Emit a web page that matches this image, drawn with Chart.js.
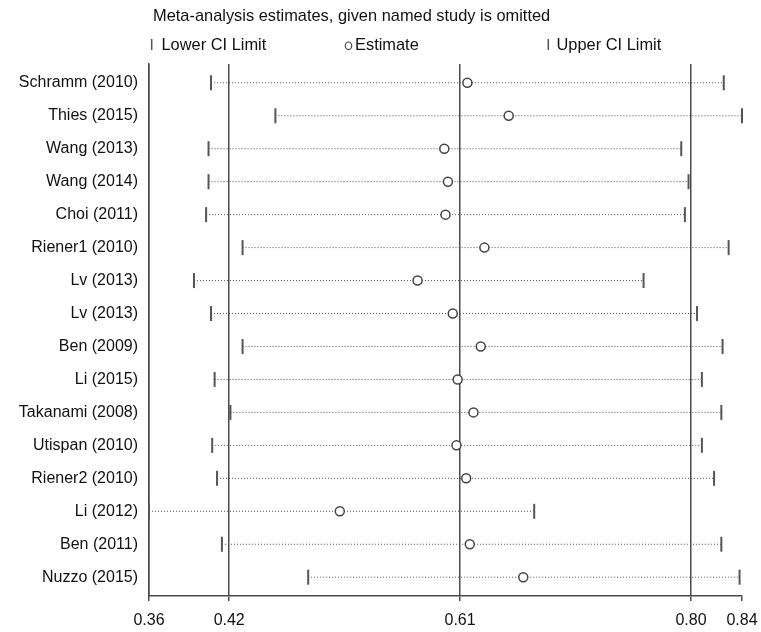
<!DOCTYPE html>
<html>
<head>
<meta charset="utf-8">
<script src="https://cdn.jsdelivr.net/npm/chart.js@4"></script>
<style>
  html, body { margin: 0; padding: 0; background: #fff; }
  #wrap { width: 761px; height: 632px; }
</style>
</head>
<body>
<div id="wrap"><canvas id="chart"></canvas></div>
<script>
const studies = [
  "Schramm (2010)", "Thies (2015)", "Wang (2013)", "Wang (2014)", "Choi (2011)",
  "Riener1 (2010)", "Lv (2013)", "Lv (2013)", "Ben (2009)", "Li (2015)",
  "Takanami (2008)", "Utispan (2010)", "Riener2 (2010)", "Li (2012)", "Ben (2011)", "Nuzzo (2015)"
];
const lowerCI = [0.405, 0.458, 0.403, 0.403, 0.401, 0.431, 0.391, 0.405, 0.431, 0.408,
  0.421, 0.406, 0.410, 0.354, 0.414, 0.485];
const estimates = [0.616, 0.650, 0.597, 0.600, 0.598, 0.630, 0.575, 0.604, 0.627, 0.608,
  0.621, 0.607, 0.615, 0.511, 0.618, 0.662];
const upperCI = [0.827, 0.842, 0.792, 0.798, 0.795, 0.831, 0.761, 0.805, 0.826, 0.809,
  0.825, 0.809, 0.819, 0.671, 0.825, 0.840];

// axis ticks (first one sits at the left end of the axis)
const tickValues = [0.354, 0.42, 0.61, 0.80, 0.842];
const tickLabels = ["0.36", "0.42", "0.61", "0.80", "0.84"];

const titleText = "Meta-analysis estimates, given named study is omitted";
const FONT = '"Liberation Sans", Arial, sans-serif';

// dotted range line for every study
const rangeSets = studies.map((s, i) => ({
  data: [{ x: lowerCI[i], y: i }, { x: upperCI[i], y: i }],
  showLine: true,
  borderColor: "#4f4f4f",
  borderWidth: 1,
  borderDash: [1, 2],
  pointRadius: 0,
  pointHoverRadius: 0,
  clip: false,
  order: 3,
}));

const capStyle = {
  pointStyle: "line",
  pointRotation: 90,
  pointRadius: 7.5,
  pointHoverRadius: 7.5,
  pointBorderWidth: 2,
  pointBorderColor: "#555",
  showLine: false,
  clip: false,
  order: 1,
};

const datasets = [
  ...rangeSets,
  { ...capStyle, data: lowerCI.map((v, i) => ({ x: v, y: i })) },
  { ...capStyle, data: upperCI.map((v, i) => ({ x: v, y: i })) },
  {
    data: estimates.map((v, i) => ({ x: v, y: i })),
    pointStyle: "circle",
    pointRadius: 4.5,
    pointHoverRadius: 4.5,
    pointBorderWidth: 1.5,
    pointBorderColor: "#444",
    pointBackgroundColor: "#fff",
    showLine: false,
    clip: false,
    order: 0,
  },
];

// title + legend drawn above the plot
const headerPlugin = {
  id: "header",
  afterDraw(chart) {
    const ctx = chart.ctx;
    ctx.save();
    ctx.fillStyle = "#111";
    ctx.font = "16.4px " + FONT;
    ctx.textBaseline = "alphabetic";
    ctx.fillText(titleText, 153, 21);
    ctx.fillText("Lower CI Limit", 161.5, 50);
    ctx.fillText("Estimate", 355, 50);
    ctx.fillText("Upper CI Limit", 556.5, 50);

    ctx.strokeStyle = "#555";
    ctx.lineWidth = 1.5;
    ctx.beginPath();
    ctx.moveTo(151.7, 39);
    ctx.lineTo(151.7, 50);
    ctx.moveTo(548.3, 39);
    ctx.lineTo(548.3, 50);
    ctx.stroke();

    ctx.lineWidth = 1.2;
    ctx.strokeStyle = "#444";
    ctx.beginPath();
    ctx.ellipse(348.5, 45.8, 3.2, 3.8, 0, 0, Math.PI * 2);
    ctx.stroke();
    ctx.restore();
  },
};

new Chart(document.getElementById("chart"), {
  type: "scatter",
  data: { datasets },
  plugins: [headerPlugin],
  options: {
    responsive: true,
    maintainAspectRatio: false,
    animation: false,
    events: [],
    layout: { padding: { top: 64, right: 19, left: 0, bottom: 0 } },
    plugins: {
      legend: { display: false },
      tooltip: { enabled: false },
    },
    scales: {
      x: {
        type: "linear",
        min: 0.354,
        max: 0.842,
        afterBuildTicks: (scale) => {
          scale.ticks = tickValues.map((v) => ({ value: v }));
        },
        afterFit: (scale) => {
          scale.height = 36;
          // labels may hang over the ends, the layout padding covers them
          scale.paddingLeft = 0;
          scale.paddingRight = 0;
        },
        ticks: {
          autoSkip: false,
          maxRotation: 0,
          padding: 10,
          color: "#111",
          font: { family: FONT, size: 16 },
          callback: (v, i) => tickLabels[i],
        },
        grid: {
          color: (c) => (c.index === tickValues.length - 1 ? "rgba(0,0,0,0)" : "#4a4a4a"),
          tickColor: "#4a4a4a",
          lineWidth: 1.5,
          tickLength: 5,
        },
        border: { display: true, color: "#4a4a4a", width: 1.5 },
      },
      y: {
        type: "linear",
        reverse: true,
        min: -0.57,
        max: 15.57,
        afterBuildTicks: (scale) => {
          scale.ticks = studies.map((s, i) => ({ value: i }));
        },
        afterFit: (scale) => {
          scale.width = 149;
          scale.paddingTop = 0;
          scale.paddingBottom = 0;
        },
        ticks: {
          autoSkip: false,
          padding: 11,
          color: "#111",
          font: { family: FONT, size: 16 },
          callback: (v) => studies[v],
        },
        grid: { display: false, drawTicks: false },
        border: { display: true, color: "#4a4a4a", width: 1.5 },
      },
    },
  },
});
</script>
</body>
</html>
